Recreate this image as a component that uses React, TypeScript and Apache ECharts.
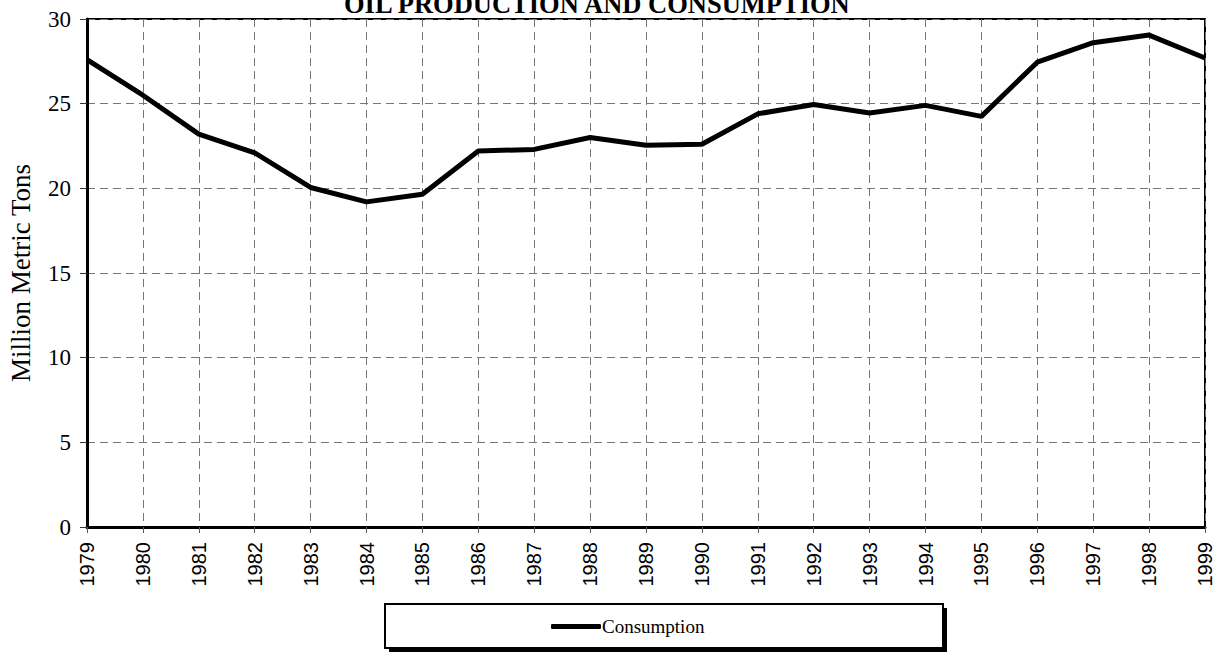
import React, { useEffect, useRef } from "react";
import * as echarts from "echarts";

const years = ["1979","1980","1981","1982","1983","1984","1985","1986","1987","1988","1989","1990","1991","1992","1993","1994","1995","1996","1997","1998","1999"];
const consumption = [27.6, 25.5, 23.2, 22.1, 20.05, 19.2, 19.65, 22.2, 22.3, 23.0, 22.55, 22.6, 24.4, 24.95, 24.45, 24.9, 24.25, 27.45, 28.6, 29.05, 27.7];
const yTicks = { min: 0, max: 30, interval: 5 };
const titleText = "OIL PRODUCTION AND CONSUMPTION";
const yName = "Million Metric Tons";
const seriesName = "Consumption";

const SERIF = "'Liberation Serif', 'Times New Roman', Times, serif";
const SANS = "'Liberation Sans', Arial, Helvetica, sans-serif";

export default function App() {
  const ref = useRef<HTMLDivElement>(null);
  useEffect(() => {
    if (!ref.current) return;
    const chart = echarts.init(ref.current, undefined, { renderer: "svg" });
    chart.setOption({
      animation: false,
      backgroundColor: "#ffffff",
      title: {
        text: titleText,
        left: 344,
        top: -10,
        padding: 0,
        textStyle: { fontFamily: SERIF, fontWeight: "bold", fontSize: 26.5, color: "#000" },
      },
      grid: {
        left: 87,
        right: 15,
        top: 19,
        bottom: 125,
        containLabel: false,
        outerBoundsMode: "none",
        show: true,
        borderColor: "#000",
        borderWidth: 2,
        backgroundColor: "transparent",
      },
      legend: {
        data: [{ name: seriesName, icon: "roundRect" }],
        left: 551,
        top: 617,
        padding: 0,
        itemWidth: 50,
        itemHeight: 5,
        itemStyle: { color: "#000", borderWidth: 0 },
        lineStyle: { width: 0 },
        textStyle: { fontFamily: SERIF, fontSize: 19, color: "#000", padding: [0, 0, 0, -4] },
      },
      xAxis: {
        type: "category",
        data: years,
        boundaryGap: false,
        axisLine: { show: true, lineStyle: { color: "#000", width: 3 } },
        axisTick: { show: true, alignWithLabel: true, length: 6, lineStyle: { color: "#555", width: 1 } },
        axisLabel: { rotate: 90, margin: 15, fontFamily: SANS, fontSize: 20, color: "#000", interval: 0 },
        splitLine: { show: true, lineStyle: { color: "#777", width: 1, type: [8, 5] } },
      },
      yAxis: {
        type: "value",
        min: yTicks.min,
        max: yTicks.max,
        interval: yTicks.interval,
        name: yName,
        nameLocation: "middle",
        nameGap: 53,
        nameTextStyle: { fontFamily: SERIF, fontSize: 27, color: "#000" },
        axisLine: { show: true, lineStyle: { color: "#000", width: 3 } },
        axisTick: { show: true, inside: false, length: 7, lineStyle: { color: "#333", width: 1 } },
        axisLabel: { margin: 16, fontFamily: SERIF, fontSize: 23, color: "#000" },
        splitLine: { show: true, lineStyle: { color: "#777", width: 1, type: [8, 5] } },
      },
      graphic: [
        { type: "rect", z: 0, shape: { x: 389, y: 608, width: 558, height: 44 }, style: { fill: "#000" } },
        { type: "rect", z: 1, shape: { x: 385, y: 604, width: 558, height: 44 }, style: { fill: "#fff", stroke: "#000", lineWidth: 2 } },
      ],
      series: [
        {
          name: seriesName,
          type: "line",
          data: consumption,
          showSymbol: false,
          symbol: "none",
          lineStyle: { color: "#000", width: 5 },
          itemStyle: { color: "#000" },
          z: 5,
        },
      ],
    });
    return () => chart.dispose();
  }, []);
  return <div ref={ref} style={{ position: "fixed", left: 0, top: 0, width: 1220, height: 652 }} />;
}
